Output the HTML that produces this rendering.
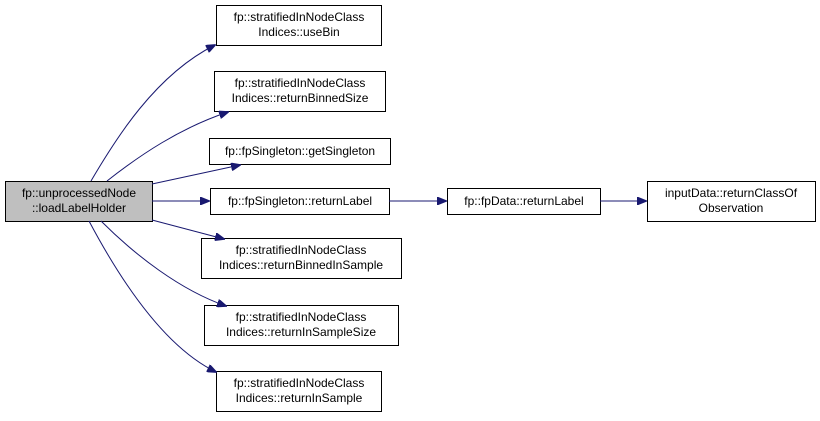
<!DOCTYPE html>
<html><head><style>
body{margin:0;background:#fff;width:820px;height:416px;overflow:hidden}
svg text{font-family:"Liberation Sans",sans-serif;font-size:12px;fill:#000}
</style></head><body>
<svg width="820" height="416" viewBox="0 0 820 416" xmlns="http://www.w3.org/2000/svg">
<defs><marker id="a" markerWidth="10" markerHeight="8" refX="9" refY="4" orient="auto" markerUnits="userSpaceOnUse"><path d="M0,0 L10,4 L0,8 z" fill="#191970" stroke="#191970"/></marker></defs>
<g stroke="#000" stroke-width="1" fill="#fff">
<rect x="5.5" y="181.5" width="147" height="40" fill="#bfbfbf"/>
<rect x="216.5" y="5.5" width="165" height="40"/>
<rect x="214.5" y="71.5" width="171" height="40"/>
<rect x="209.5" y="138.5" width="181" height="26"/>
<rect x="210.5" y="188.5" width="179" height="26"/>
<rect x="447.5" y="188.5" width="153" height="26"/>
<rect x="647.5" y="181.5" width="168" height="40"/>
<rect x="201.5" y="238.5" width="200" height="40"/>
<rect x="204.5" y="305.5" width="194" height="40"/>
<rect x="216.5" y="371.5" width="165" height="40"/>
</g>
<g fill="none" stroke="#191970" stroke-width="1" marker-end="url(#a)">
<path d="M91,181 C115,140 155,75 215,45"/>
<path d="M107,181 C140,155 180,128 228,112"/>
<path d="M152,184 L240,165"/>
<path d="M152,201 L209,201"/>
<path d="M152,220 L224,239"/>
<path d="M101,221 C135,255 180,290 226,306"/>
<path d="M89,221 C115,270 160,345 216,372"/>
<path d="M389,201 L446,201"/>
<path d="M600,201 L646,201"/>
</g>
<g text-anchor="middle">
<text x="79" y="197">fp::unprocessedNode</text><text x="79" y="212">::loadLabelHolder</text>
<text x="299" y="21">fp::stratifiedInNodeClass</text><text x="299" y="36">Indices::useBin</text>
<text x="300" y="87">fp::stratifiedInNodeClass</text><text x="300" y="102">Indices::returnBinnedSize</text>
<text x="300" y="155">fp::fpSingleton::getSingleton</text>
<text x="300" y="205">fp::fpSingleton::returnLabel</text>
<text x="524" y="205">fp::fpData::returnLabel</text>
<text x="731" y="197">inputData::returnClassOf</text><text x="731" y="212">Observation</text>
<text x="301" y="254">fp::stratifiedInNodeClass</text><text x="301" y="269">Indices::returnBinnedInSample</text>
<text x="301" y="321">fp::stratifiedInNodeClass</text><text x="301" y="336">Indices::returnInSampleSize</text>
<text x="299" y="387">fp::stratifiedInNodeClass</text><text x="299" y="402">Indices::returnInSample</text>
</g>
</svg>
</body></html>
